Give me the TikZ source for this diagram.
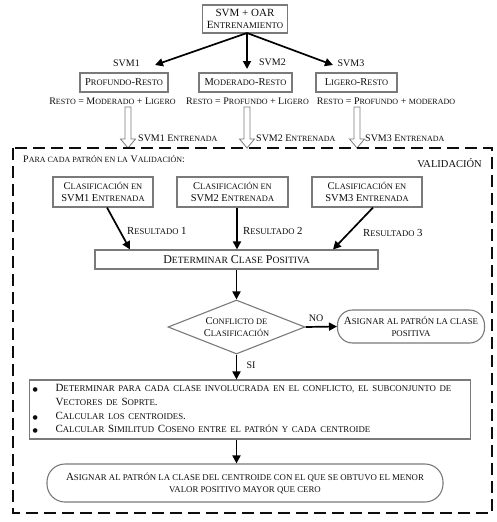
\documentclass[tikz,border=0pt]{standalone}
\usepackage{fontspec}
\setmainfont{Liberation Serif}
\newfontfamily\dejavu{DejaVu Sans}
\usetikzlibrary{arrows.meta,shapes.geometric}
\makeatletter
\newcommand\lc[1]{{\fontsize{\fpeval{0.8*\f@size}}{\f@baselineskip}\selectfont #1}}
\makeatother
\definecolor{bord}{HTML}{7A7A7A}
\definecolor{ink}{HTML}{0D0D0D}
\newcommand\fs[1]{\fontsize{#1}{12}\selectfont}
\newcommand\bulletdot{{\dejavu\fontsize{6}{8}\selectfont ●}}
\begin{document}
\begin{tikzpicture}[x=1pt,y=-1pt,
  every node/.style={text=ink, font=\fs{10.5}},
  box/.style={draw=bord, line width=1.1pt, inner sep=1pt, align=center},
  rbox/.style={box, rounded corners=15pt},
  lab/.style={font=\fs{10}, inner sep=0pt},
  arr/.style={line width=1.7pt, -{Triangle[length=8pt,width=8pt]}},
  hollow/.style={draw=bord, line width=0.8pt, fill=white}]
\useasboundingbox (0,0) rectangle (497,522);

% top section
\node[box, font=\fs{11}, minimum width=85pt, minimum height=28pt] (top) at (245,19) {SVM + OAR\\E\lc{NTRENAMIENTO}};
\node[box, minimum width=88pt, minimum height=19pt] (p1) at (124,82.5) {P\lc{ROFUNDO}-R\lc{ESTO}};
\node[box, minimum width=93pt, minimum height=19pt] (p2) at (245.5,82.5) {M\lc{ODERADO}-R\lc{ESTO}};
\node[box, minimum width=81pt, minimum height=19pt] (p3) at (356.5,82.5) {L\lc{IGERO}-R\lc{ESTO}};
\coordinate (a1) at (155,65);
\coordinate (a2) at (247,69);
\coordinate (a3) at (333,65);
\coordinate (a0) at (247,33);
\draw[arr] (a0) -- (a1);
\draw[arr] (a0) -- (a2);
\draw[arr] (a0) -- (a3);
\node[lab] (s1) at (126.5,63.5) {SVM1};
\node[lab] (s2) at (272.5,62) {SVM2};
\node[lab] (s3) at (351,63.5) {SVM3};
\node[lab] (r1) at (112.5,101) {R\lc{ESTO} = M\lc{ODERADO} + L\lc{IGERO}};
\node[lab] (r2) at (247.5,101) {R\lc{ESTO} = P\lc{ROFUNDO} + L\lc{IGERO}};
\node[lab] (r3) at (386,101) {R\lc{ESTO} = P\lc{ROFUNDO} + \lc{MODERADO}};

% hollow arrows
\foreach \x in {128,247,357}{
  \draw[hollow] (\x-3,107) -- (\x+3,107) -- (\x+3,139) -- (\x+7.5,139) -- (\x,148)
     -- (\x-7.5,139) -- (\x-3,139) -- cycle;
}
\node[lab, anchor=west] (e1) at (138,138) {SVM1 E\lc{NTRENADA}};
\node[lab, anchor=west] (e2) at (256,138) {SVM2 E\lc{NTRENADA}};
\node[lab, anchor=west] (e3) at (365,138) {SVM3 E\lc{NTRENADA}};

% validation frame
\draw[line width=1.3pt, ink, dash pattern=on 12pt off 6pt] (13,148) rectangle (492,513);
\node[lab, anchor=west] (para) at (23,159) {P\lc{ARA CADA PATRÓN EN LA} V\lc{ALIDACIÓN}:};
\node[inner sep=0pt, anchor=east] (val) at (482,163) {VALIDACIÓN};

% classification boxes
\node[box, minimum width=100pt, minimum height=30pt] (c1) at (103,192) {C\lc{LASIFICACIÓN EN}\\SVM1 E\lc{NTRENADA}};
\node[box, minimum width=111pt, minimum height=30pt] (c2) at (232.5,192) {C\lc{LASIFICACIÓN EN}\\SVM2 E\lc{NTRENADA}};
\node[box, minimum width=110pt, minimum height=30pt] (c3) at (367,192) {C\lc{LASIFICACIÓN EN}\\SVM3 E\lc{NTRENADA}};
\node[box, font=\fs{12}, minimum width=283pt, minimum height=19pt] (dcp) at (236.5,259.5) {D\lc{ETERMINAR} C\lc{LASE} P\lc{OSITIVA}};
\draw[arr] ([xshift=4pt]c1.south) -- ([xshift=-106.5pt]dcp.north);
\draw[arr] ([xshift=4.5pt]c2.south) -- ([xshift=0.5pt]dcp.north);
\draw[arr] ([xshift=6pt]c3.south) -- ([xshift=96.5pt]dcp.north);
\node[lab, font=\fs{10.8}, anchor=west] (res1) at (127,231) {R\lc{ESULTADO} 1};
\node[lab, font=\fs{10.8}, anchor=west] (res2) at (243,231) {R\lc{ESULTADO} 2};
\node[lab, font=\fs{10.8}, anchor=west] (res3) at (363,233) {R\lc{ESULTADO} 3};

% decision
\node[diamond, draw=bord, line width=1.1pt, inner sep=0pt, aspect=2.54,
      minimum width=137pt, minimum height=54pt, align=center] (diam) at (236.5,327) {C\lc{ONFLICTO DE}\\C\lc{LASIFICACIÓN}};
\draw[arr] (dcp.south -| diam.north) -- (diam.north);
\node[rbox, font=\fs{11}, minimum width=147pt, minimum height=33pt, rounded corners=15pt] (asg) at (411,326.5) {A\lc{SIGNAR AL PATRÓN LA CLASE}\\\lc{POSITIVA}};
\draw[arr] (diam.east) -- (asg.west);
\node[lab] (no) at (316,318) {NO};

% bullets
\node[box, anchor=west, minimum height=59pt, text width=435pt, inner xsep=3pt, align=left,
      font=\fontsize{11}{13.8}\selectfont] (bul) at (29,409.5)
  {\begin{tabular}{@{}p{23pt}@{}l@{}}
   \bulletdot & D\lc{ETERMINAR PARA CADA CLASE INVOLUCRADA EN EL CONFLICTO, EL SUBCONJUNTO DE}\\
   & V\lc{ECTORES DE} S\lc{OPRTE}.\\
   \bulletdot & C\lc{ALCULAR LOS CENTROIDES}.\\
   \bulletdot & C\lc{ALCULAR} S\lc{IMILITUD} C\lc{OSENO ENTRE EL PATRÓN Y CADA CENTROIDE}
   \end{tabular}};
\draw[arr] (diam.south) -- (diam.south |- bul.north);
\node[lab] (si) at (251,365) {SI};

% final
\node[rbox, font=\fs{11}, minimum width=396pt, minimum height=38pt, rounded corners=18pt] (fin) at (245,483)
  {A\lc{SIGNAR AL PATRÓN LA CLASE DEL CENTROIDE CON EL QUE SE OBTUVO EL MENOR}\\\lc{VALOR POSITIVO MAYOR QUE CERO}};
\draw[arr] (bul.south -| diam.south) -- (fin.north -| diam.south);
\end{tikzpicture}
\end{document}
